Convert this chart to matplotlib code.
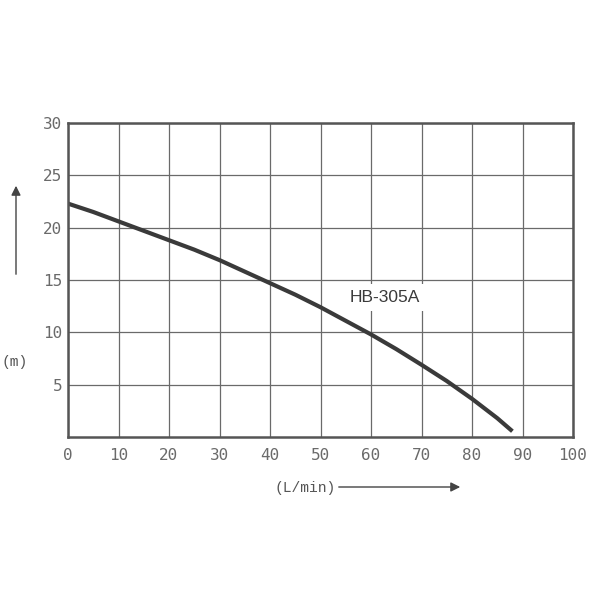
import numpy as np
import matplotlib.pyplot as plt

# flow (L/min) vs head (m)
flow = [0, 5, 10, 15, 20, 25, 30, 35, 40, 45, 50, 55, 60, 65, 70, 75, 80, 85, 88]
head = [22.3, 21.5, 20.6, 19.7, 18.8, 17.9, 16.9, 15.8, 14.7, 13.6, 12.4, 11.1,
        9.8, 8.4, 6.9, 5.35, 3.65, 1.8, 0.55]
x_ticks = [0, 10, 20, 30, 40, 50, 60, 70, 80, 90, 100]
y_ticks = [5, 10, 15, 20, 25, 30]
model = 'HB-305A'

fig = plt.figure(figsize=(6, 6), dpi=100)
ax = fig.add_axes([68/600, 1 - 437/600, 505/600, 314/600])

ax.plot(flow, head, color='#3a3a3a', lw=3.0, solid_capstyle='butt',
        solid_joinstyle='round')
ax.set_xlim(0, 100)
ax.set_ylim(0, 30)
ax.set_xticks(x_ticks)
ax.set_yticks(y_ticks)
ax.grid(True, color='#6a6a6a', lw=0.9)
ax.set_axisbelow(True)
ax.tick_params(length=0, labelsize=11.5, labelcolor='#6a6a6a')
ax.tick_params(axis='y', pad=4)
ax.tick_params(axis='x', pad=8)
for lab in ax.get_xticklabels() + ax.get_yticklabels():
    lab.set_family('DejaVu Sans Mono')
for s in ax.spines.values():
    s.set_color('#555555')
    s.set_linewidth(1.8)

ax.text(62.8, 13.3, model, fontsize=12.5, family='Liberation Sans', color='#3a3a3a',
        ha='center', va='center',
        bbox=dict(facecolor='white', edgecolor='none', boxstyle='square,pad=0.35'))

fig.text(15/600, 1 - 362/600, '(m)', fontsize=10.5, family='Liberation Mono',
         color='#555555', ha='center', va='center')
fig.text(305/600, 1 - 488/600, '(L/min)', fontsize=10.5, family='Liberation Mono',
         color='#555555', ha='center', va='center')

# arrows in figure coordinates
ax.annotate('', xy=(16/600, 1 - 183/600), xytext=(16/600, 1 - 277/600),
            xycoords='figure fraction', textcoords='figure fraction',
            arrowprops=dict(arrowstyle='-|>', color='#444444', lw=1.0,
                            mutation_scale=14))
ax.annotate('', xy=(463/600, 1 - 487/600), xytext=(336/600, 1 - 487/600),
            xycoords='figure fraction', textcoords='figure fraction',
            arrowprops=dict(arrowstyle='-|>', color='#444444', lw=1.0,
                            mutation_scale=14))

fig.savefig('out.png', dpi=100, facecolor='white')
